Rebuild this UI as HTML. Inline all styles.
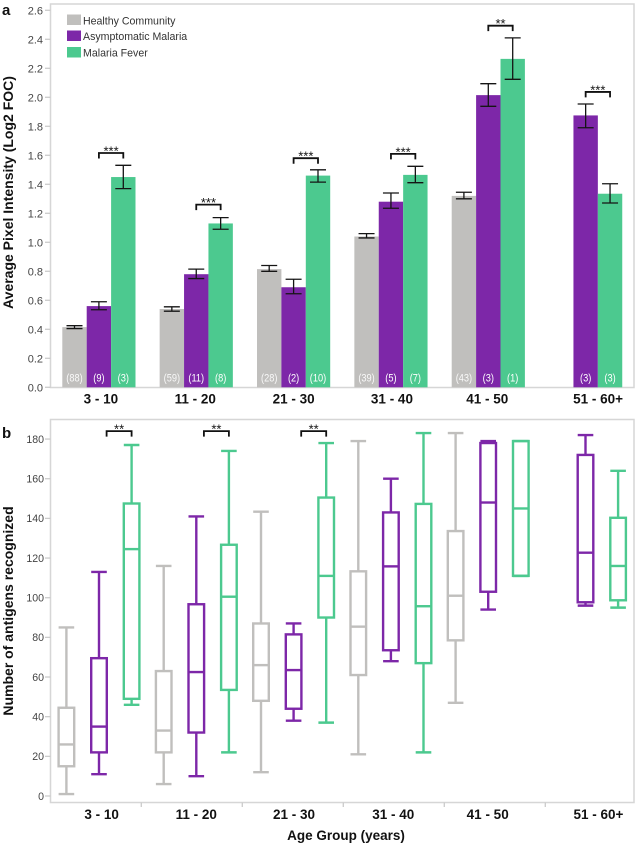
<!DOCTYPE html>
<html lang="en">
<head>
<meta charset="utf-8">
<title>Antigen recognition by age group</title>
<style>
  html, body { margin: 0; padding: 0; background: #fff; }
  svg { display: block; font-family: "Liberation Sans", Arial, sans-serif; }
</style>
</head>
<body>
<svg id="chart" xmlns="http://www.w3.org/2000/svg" width="635" height="845" viewBox="0 0 635 845">
  <rect x="50.5" y="4" width="583.5" height="383.5" fill="#fff" stroke="#d6d6d6" stroke-width="1.5"/>
  <rect x="50.5" y="419.5" width="583.5" height="383" fill="#fff" stroke="#d6d6d6" stroke-width="1.5"/>
  <g id="panelA"></g>
  <g id="panelB"></g>
  <text x="2" y="15" font-size="15" font-weight="bold" fill="#111">a</text>
  <text x="2" y="438" font-size="15" font-weight="bold" fill="#111">b</text>
  <text transform="translate(13,192.5) rotate(-90)" text-anchor="middle" font-size="14" font-weight="bold" fill="#111">Average Pixel Intensity (Log2 FOC)</text>
  <text transform="translate(13,611) rotate(-90)" text-anchor="middle" font-size="14" font-weight="bold" fill="#111">Number of antigens recognized</text>
  <text x="346" y="840" text-anchor="middle" font-size="13.5" font-weight="bold" fill="#111">Age Group (years)</text>
  <g>
    <rect x="67" y="14.5" width="14" height="10.5" fill="#c0bfbd"/>
    <text x="83" y="24.3" font-size="10.6" fill="#333">Healthy Community</text>
    <rect x="67" y="30.5" width="14" height="10.5" fill="#7d27a8"/>
    <text x="83" y="40" font-size="10.6" fill="#333">Asymptomatic Malaria</text>
    <rect x="67" y="47" width="14" height="10.5" fill="#4cc98f"/>
    <text x="83" y="56.5" font-size="10.6" fill="#333">Malaria Fever</text>
  </g>
</svg>
<script>
const categories = ['3 - 10', '11 - 20', '21 - 30', '31 - 40', '41 - 50', '51 - 60+'];
const seriesNames = ['healthy', 'asymptomatic', 'fever'];

const healthyMeans = [0.415, 0.54, 0.815, 1.04, 1.32, null];
const asymptomaticMeans = [0.56, 0.78, 0.69, 1.28, 2.015, 1.875];
const feverMeans = [1.45, 1.13, 1.46, 1.465, 2.265, 1.335];

const healthyErrLow = [0.405, 0.525, 0.80, 1.03, 1.30, null];
const healthyErrHigh = [0.425, 0.555, 0.84, 1.06, 1.345, null];
const asymptomaticErrLow = [0.535, 0.75, 0.645, 1.235, 1.938, 1.79];
const asymptomaticErrHigh = [0.59, 0.815, 0.745, 1.34, 2.094, 1.954];
const feverErrLow = [1.37, 1.09, 1.415, 1.411, 2.124, 1.271];
const feverErrHigh = [1.531, 1.17, 1.50, 1.524, 2.41, 1.404];

const healthyCounts = ['(88)', '(59)', '(28)', '(39)', '(43)', null];
const asymptomaticCounts = ['(9)', '(11)', '(2)', '(5)', '(3)', '(3)'];
const feverCounts = ['(3)', '(8)', '(10)', '(7)', '(1)', '(3)'];

const barSigLabels = ['***', '***', '***', '***', '**', '***'];
const barSigLevels = [1.616, 1.26, 1.58, 1.61, 2.494, 2.037];
const barTicks = [0, 0.2, 0.4, 0.6, 0.8, 1.0, 1.2, 1.4, 1.6, 1.8, 2.0, 2.2, 2.4, 2.6];

/* five-number summaries: low whisker, q1, median, q3, high whisker */
const healthyBoxes = [[1, 15, 26, 44.5, 85], [6, 22, 33, 63, 116], [12, 48, 66, 87, 143.4], [21, 61, 85.4, 113.3, 179], [47, 78.5, 101, 133.6, 183], null];
const asymptomaticBoxes = [[11, 22, 35, 69.5, 113], [10, 32, 62.5, 96.7, 141], [38, 44, 63.5, 81.5, 87], [68, 73.5, 115.8, 143, 160], [94, 103, 148, 178, 179], [96, 97.7, 122.7, 172, 182]];
const feverBoxes = [[46, 49, 124.5, 147.5, 177], [22, 53.5, 100.5, 126.7, 174], [37, 90, 111, 150.5, 178], [22, 67, 95.7, 147.3, 183], [111, 111, 145, 179, 179], [95, 98.7, 116, 140.3, 164]];

const boxSigLabels = ['**', '**', '**'];
const boxSigLevels = [184, 184, 184];
const boxTicks = [0, 20, 40, 60, 80, 100, 120, 140, 160, 180];

const colors = { healthy: '#c0bfbd', asymptomatic: '#7d27a8', fever: '#4cc98f' };
const NS = 'http://www.w3.org/2000/svg';
const AXIS = '#cbcbcb';

function add(parent, tag, attrs, text) {
  const el = document.createElementNS(NS, tag);
  for (const k in attrs) el.setAttribute(k, attrs[k]);
  if (text !== undefined) el.textContent = text;
  parent.appendChild(el);
  return el;
}

/* axis functions */
const yBar = v => 387.3 - v * 145;
const yBox = v => 796 - v * 1.983;
const groupStartBar = i => 62.3 + i * 97.35;
const barWidth = 24.4;
const xBar = (i, s) => groupStartBar(i) + s * barWidth;
const xBarCenter = (i, s) => xBar(i, s) + barWidth / 2;
const xBox = (i, s) => 99 + i * 97.3 + (s - 1) * 32.6;

const panelA = document.getElementById('panelA');
const panelB = document.getElementById('panelB');

function drawBracket(parent, x1, x2, y, label, name) {
  const path = add(parent, 'path', { d: `M${x1} ${y + 5.5}V${y}H${x2}V${y + 5.5}`, fill: 'none', stroke: '#111', 'stroke-width': 1.8 });
  
  
  const stars = add(parent, 'text', { x: (x1 + x2) / 2, y: y + 2.5, 'text-anchor': 'middle', 'font-size': 13, fill: '#111' }, label);
  
  
}

function drawTicks(parent, ticks, yFn, fontSize, right, fmt, name) {
  ticks.forEach(t => {
    const tick = add(parent, 'line', { x1: 45, x2: 50.5, y1: yFn(t), y2: yFn(t), stroke: AXIS, 'stroke-width': 1.3 });
    
    
    const label = add(parent, 'text', { x: right, y: yFn(t) + fontSize * 0.36, 'text-anchor': 'end', 'font-size': fontSize, fill: '#444' }, fmt(t));
    
    
  });
}

/* Panel a */
const barMeans = [healthyMeans, asymptomaticMeans, feverMeans];
const barLows = [healthyErrLow, asymptomaticErrLow, feverErrLow];
const barHighs = [healthyErrHigh, asymptomaticErrHigh, feverErrHigh];
const barCounts = [healthyCounts, asymptomaticCounts, feverCounts];

drawTicks(panelA, barTicks, yBar, 11, 43, t => t.toFixed(1), 'y-axis-a');

seriesNames.forEach((name, s) => {
  categories.forEach((cat, i) => {
    const mean = barMeans[s][i];
    if (mean === null) return;
    const bar = add(panelA, 'rect', { x: xBar(i, s), y: yBar(mean), width: barWidth, height: yBar(0) - yBar(mean), fill: colors[name] });
    
    
  });
});

seriesNames.forEach((name, s) => {
  categories.forEach((cat, i) => {
    const mean = barMeans[s][i];
    if (mean === null) return;
    const cx = xBarCenter(i, s);
    const lo = yBar(barLows[s][i]);
    const hi = yBar(barHighs[s][i]);
    const err = add(panelA, 'path', { d: `M${cx - 8} ${hi}H${cx + 8}M${cx} ${hi}V${lo}M${cx - 8} ${lo}H${cx + 8}`, fill: 'none', stroke: '#151515', 'stroke-width': 1.3 });
    
    
    const count = add(panelA, 'text', { transform: `translate(${cx},381.5) scale(.84,1)`, 'text-anchor': 'middle', 'font-size': 11, fill: '#fff', 'fill-opacity': name === 'healthy' ? 0.9 : 1 }, barCounts[s][i]);
    
    
  });
});

barSigLabels.forEach((label, i) => {
  drawBracket(panelA, xBarCenter(i, 1), xBarCenter(i, 2), yBar(barSigLevels[i]), label, 'significance-a-' + i);
});

const labelNudgeA = [2, -1, 0, 1, -1, 12.4];
categories.forEach((cat, i) => {
  const label = add(panelA, 'text', { x: xBarCenter(i, 1) + labelNudgeA[i], y: 403.5, 'text-anchor': 'middle', 'font-size': 13.5, 'font-weight': 'bold', fill: '#111' }, cat);
  
  
});

/* Panel b */
const boxSets = [healthyBoxes, asymptomaticBoxes, feverBoxes];
drawTicks(panelB, boxTicks, yBox, 10.6, 44, t => String(t), 'y-axis-b');

const boxHalf = 7.8;
seriesNames.forEach((name, s) => {
  categories.forEach((cat, i) => {
    const stats = boxSets[s][i];
    if (!stats) return;
    const cx = xBox(i, s);
    const [low, q1, med, q3, high] = stats.map(yBox);
    const group = add(panelB, 'g', { fill: 'none', stroke: colors[name], 'stroke-width': 2.4 });
    
    
    add(group, 'path', { d: `M${cx} ${q3}V${high}M${cx - boxHalf} ${high}H${cx + boxHalf}M${cx} ${q1}V${low}M${cx - boxHalf} ${low}H${cx + boxHalf}` });
    add(group, 'rect', { x: cx - boxHalf, y: q3, width: boxHalf * 2, height: q1 - q3 });
    add(group, 'line', { x1: cx - boxHalf, x2: cx + boxHalf, y1: med, y2: med });
  });
});

boxSigLabels.forEach((label, i) => {
  const end = xBox(i, 2);
  drawBracket(panelB, end - 25, end, yBox(boxSigLevels[i]), label, 'significance-b-' + i);
});

const labelNudgeB = [2.7, 0, 0.4, 2.4, -0.5, 13];
categories.forEach((cat, i) => {
  if (i > 0) {
    const sep = 141.3 + (i - 1) * 101;
    const tick = add(panelB, 'line', { x1: sep, x2: sep, y1: 802.5, y2: 807, stroke: AXIS, 'stroke-width': 1.3 });
    
    
  }
  const label = add(panelB, 'text', { x: xBox(i, 1) + labelNudgeB[i], y: 819, 'text-anchor': 'middle', 'font-size': 13.5, 'font-weight': 'bold', fill: '#111' }, cat);
  
  
});
</script>
</body>
</html>
